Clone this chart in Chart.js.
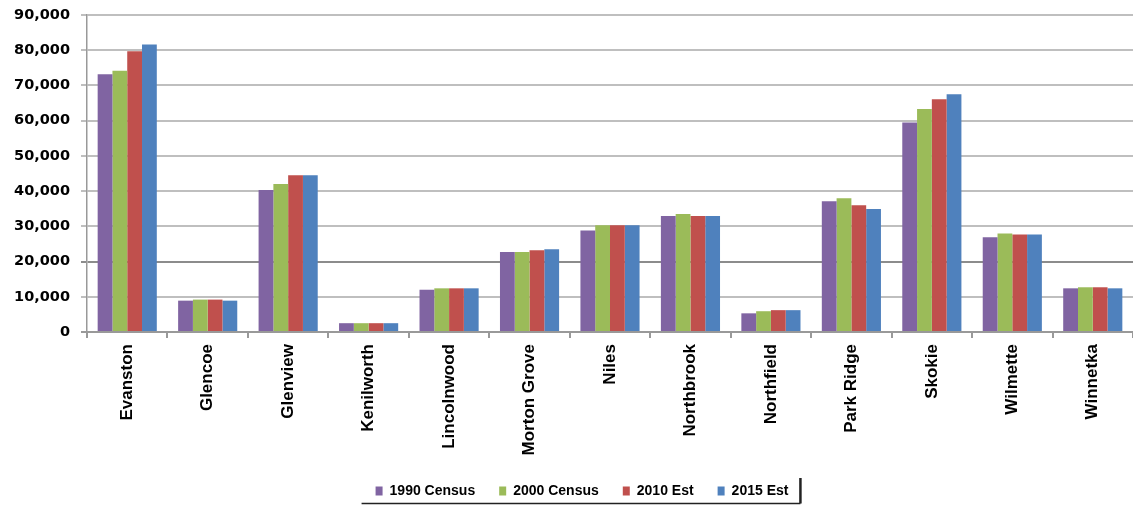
<!DOCTYPE html>
<html>
<head>
<meta charset="utf-8">
<script src="https://cdn.jsdelivr.net/npm/chart.js@4/dist/chart.umd.min.js"></script>
<style>
  html, body { margin: 0; padding: 0; background: #ffffff; }
  #wrap { width: 1133px; height: 508px; position: relative; }
</style>
</head>
<body>
<div id="wrap"><canvas id="c" width="1133" height="508"></canvas></div>
<script>
const categories = ["Evanston", "Glencoe", "Glenview", "Kenilworth", "Lincolnwood", "Morton Grove", "Niles", "Northbrook", "Northfield", "Park Ridge", "Skokie", "Wilmette", "Winnetka"];
const census1990 = [73200, 8900, 40300, 2500, 12000, 22700, 28800, 32900, 5300, 37100, 59500, 26900, 12400];
const census2000 = [74200, 9200, 42000, 2500, 12400, 22700, 30300, 33500, 5900, 38000, 63300, 28000, 12700];
const est2010 = [79700, 9200, 44500, 2500, 12400, 23200, 30300, 32900, 6200, 36000, 66100, 27700, 12700];
const est2015 = [81600, 8900, 44500, 2500, 12400, 23500, 30300, 32900, 6200, 34900, 67500, 27700, 12400];
const seriesNames = ["1990 Census", "2000 Census", "2010 Est", "2015 Est"];
const seriesColors = ["#8064A2", "#9BBB59", "#C0504D", "#4F81BD"];
const yMin = 0, yMax = 90000, yStep = 10000;

const seriesValues = [census1990, census2000, est2010, est2015];

// shift the legend block slightly right, as in the reference
const legendShift = {
  id: 'legendShift',
  afterLayout(chart) {
    const lg = chart.legend;
    if (!lg) return;
    lg.left += 14;
    lg.right += 14;
  }
};

const legendFrame = {
  id: 'legendFrame',
  afterDraw(chart) {
    const lg = chart.legend;
    if (!lg || !lg.legendHitBoxes || !lg.legendHitBoxes.length) return;
    const hb = lg.legendHitBoxes;
    const first = hb[0], last = hb[hb.length - 1];
    const left = first.left - 14;
    const right = last.left + last.width + 12;
    const bottom = lg.bottom - 4.5;
    const top = first.top - 6;
    const ctx = chart.ctx;
    ctx.save();
    ctx.strokeStyle = '#222222';
    ctx.lineWidth = 1.5;
    ctx.beginPath();
    ctx.moveTo(left, bottom);
    ctx.lineTo(right, bottom);
    ctx.stroke();
    ctx.lineWidth = 2.5;
    ctx.beginPath();
    ctx.moveTo(right, top);
    ctx.lineTo(right, bottom);
    ctx.stroke();
    ctx.restore();
  }
};

new Chart(document.getElementById('c'), {
  type: 'bar',
  data: {
    labels: categories,
    datasets: seriesNames.map((n, i) => ({
      label: n,
      data: seriesValues[i],
      backgroundColor: seriesColors[i],
      borderWidth: 0,
      barPercentage: 1.0,
      categoryPercentage: 0.735
    }))
  },
  options: {
    responsive: false,
    animation: false,
    devicePixelRatio: 1,
    layout: { padding: { top: 15, right: -3, bottom: 0, left: 0 } },
    plugins: {
      tooltip: { enabled: false },
      legend: {
        position: 'bottom',
        labels: {
          boxWidth: 7,
          boxHeight: 9,
          padding: 24,
          color: '#000000',
          font: { family: 'Liberation Sans', size: 14, weight: 'bold' }
        }
      }
    },
    scales: {
      x: {
        grid: {
          display: true,
          drawOnChartArea: false,
          drawTicks: true,
          tickLength: 6,
          color: '#999999',
          lineWidth: 2
        },
        border: { display: true, color: '#999999', width: 2 },
        ticks: {
          autoSkip: false,
          minRotation: 90,
          maxRotation: 90,
          padding: 6,
          color: '#000000',
          font: { family: 'Liberation Sans', size: 17, weight: 'bold' }
        },
        afterFit(scale) { scale.height = 128; }
      },
      y: {
        min: yMin,
        max: yMax,
        grid: {
          tickLength: 6,
          lineWidth: 2,
          color: (ctx) => {
            if (!ctx.tick) return '#bfbfbf';
            if (ctx.tick.value === 0) return '#999999';
            if (ctx.tick.value === 20000) return '#8c8c8c';
            return '#bfbfbf';
          }
        },
        border: { display: true, color: '#999999', width: 1.5 },
        ticks: {
          stepSize: yStep,
          padding: 11,
          color: '#000000',
          font: { family: 'DejaVu Sans', size: 14.5, weight: 'bold' },
          callback: (v) => Number(v).toLocaleString('en-US')
        },
        afterFit(scale) {
          scale.width = 87;
          scale.paddingTop = 4;
          scale.paddingBottom = 4;
        }
      }
    }
  },
  plugins: [legendShift, legendFrame]
});
</script>
</body>
</html>
